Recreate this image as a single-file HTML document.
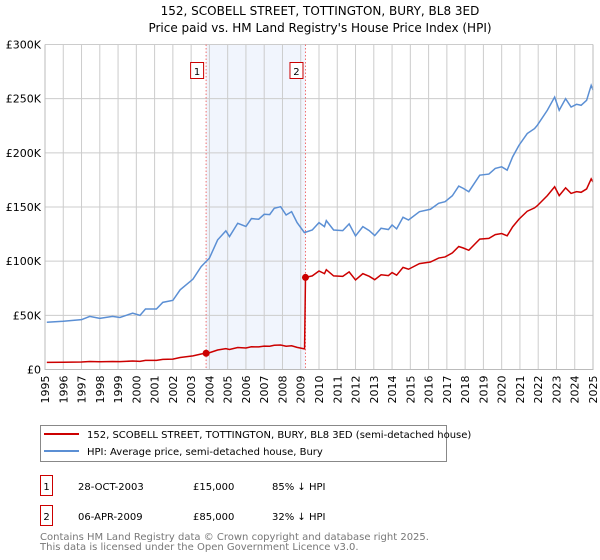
<!DOCTYPE html>
<html><head><meta charset="utf-8"><style>
body{margin:0;background:#fff;}
svg{display:block;font-family:"DejaVu Sans","Liberation Sans",sans-serif;}
</style></head><body>
<svg id="chart" width="600" height="560" viewBox="0 0 600 560">
<text x="320" y="15" text-anchor="middle" font-size="12">152, SCOBELL STREET, TOTTINGTON, BURY, BL8 3ED</text>
<text x="320" y="32" text-anchor="middle" font-size="12">Price paid vs. HM Land Registry's House Price Index (HPI)</text>
<g id="grid"></g><g id="marks"></g><g id="axes"></g>
<g>
<rect x="40.5" y="425.5" width="406" height="36" fill="#fff" stroke="#888"/>
<line x1="44" y1="434" x2="79" y2="434" stroke="#cc0000" stroke-width="2"/>
<text x="87" y="438" font-size="10">152, SCOBELL STREET, TOTTINGTON, BURY, BL8 3ED (semi-detached house)</text>
<line x1="44" y1="451" x2="79" y2="451" stroke="#5b8fd4" stroke-width="2"/>
<text x="87" y="455" font-size="10">HPI: Average price, semi-detached house, Bury</text>
</g>
<g font-size="10">
<rect x="40.5" y="475.5" width="12" height="20" fill="#fff" stroke="#cc0000"/>
<text x="46.5" y="490" text-anchor="middle">1</text>
<text x="78" y="490">28-OCT-2003</text><text x="193" y="490">£15,000</text><text x="272" y="490">85% ↓ HPI</text>
<rect x="40.5" y="505.5" width="12" height="20" fill="#fff" stroke="#cc0000"/>
<text x="46.5" y="520" text-anchor="middle">2</text>
<text x="78" y="520">06-APR-2009</text><text x="193" y="520">£85,000</text><text x="272" y="520">32% ↓ HPI</text>
</g>
<text x="40" y="540" font-size="10" fill="#777">Contains HM Land Registry data © Crown copyright and database right 2025.</text>
<text x="40" y="550" font-size="10" fill="#777">This data is licensed under the Open Government Licence v3.0.</text>
</svg>
<script>
const hpiYears=[1995.1,1996,1997,1997.45,1998,1998.7,1999.1,1999.8,2000.2,2000.5,2001.1,2001.45,2002,2002.4,2003.1,2003.55,2004,2004.45,2004.9,2005.1,2005.55,2006,2006.3,2006.7,2007,2007.3,2007.55,2007.9,2008.2,2008.5,2008.8,2009.2,2009.63,2010,2010.3,2010.4,2010.8,2011.3,2011.65,2012,2012.4,2012.75,2013.05,2013.4,2013.8,2014,2014.25,2014.6,2014.9,2015.5,2016.1,2016.55,2016.9,2017.3,2017.65,2017.9,2018.2,2018.8,2019.3,2019.65,2020,2020.3,2020.6,2020.95,2021.4,2021.8,2021.95,2022.5,2022.9,2023.15,2023.5,2023.8,2024.1,2024.35,2024.65,2024.9,2025];
const hpiValues=[43.6,44.5,46,49,47.2,49,48,52,50,55.8,55.8,62,63.8,73.6,83.4,95,102.8,119.6,128,122.7,135,132,139.3,138.7,143.3,143,148.8,150.3,142.6,145.7,135.6,126.4,128.8,135.6,131.9,137.4,128.8,128.2,134.4,123.3,131.9,128.2,123.6,130.4,129.2,133.4,129.8,140.5,138,145.7,147.9,153.4,154.9,160.4,169.3,167.2,164.1,179.4,180.4,185.6,187.1,184,196.3,207,217.8,222.4,225.4,239.3,251.5,239.3,250,242.3,244.8,243.9,248.5,262.3,258];
const saleYears=[2003.82,2009.26];
const salePrices=[15,85];
const saleLabels=["1","2"];
const yTicks=[0,50,100,150,200,250,300];
const yTickLabels=["£0","£50K","£100K","£150K","£200K","£250K","£300K"];
const xTicks=[];for(let y=1995;y<=2025;y++)xTicks.push(y);

const NS="http://www.w3.org/2000/svg";
const X0=45,X1=593,Y0=369.5,Y1=44.5;
const sx=y=>X0+(y-1995)/30*(X1-X0);
const sy=v=>Y0-v/300*(Y0-Y1);
function mk(tag,attrs,parent){const e=document.createElementNS(NS,tag);for(const k in attrs)e.setAttribute(k,attrs[k]);parent.appendChild(e);return e;}
const grid=document.getElementById('grid'),marks=document.getElementById('marks'),axes=document.getElementById('axes');
function hpiAt(t){for(let i=0;i<hpiYears.length-1;i++){if(t<=hpiYears[i+1]){const f=(t-hpiYears[i])/(hpiYears[i+1]-hpiYears[i]);return hpiValues[i]+f*(hpiValues[i+1]-hpiValues[i]);}}return hpiValues[hpiValues.length-1];}

const shade=mk('rect',{x:sx(saleYears[0]),y:Y1,width:sx(saleYears[1])-sx(saleYears[0]),height:Y0-Y1,fill:'#f1f5fd'},grid);


xTicks.forEach(y=>{const l=mk('line',{x1:sx(y),x2:sx(y),y1:Y1,y2:Y0,stroke:'#cccccc'},grid);


const t=mk('text',{x:0,y:0,'font-size':11,'text-anchor':'end',transform:`translate(${sx(y)+4},${Y0+6}) rotate(-90)`},axes);t.textContent=y;

});
yTicks.forEach((v,i)=>{const l=mk('line',{x1:X0,x2:X1,y1:sy(v),y2:sy(v),stroke:'#cccccc'},grid);


const t=mk('text',{x:X0-4,y:sy(v)+4,'font-size':11,'text-anchor':'end'},axes);t.textContent=yTickLabels[i];

});
const ax=mk('path',{d:`M${X0},${Y1}V${Y0}H${X1}V${Y1}`,fill:'none',stroke:'#bbb'},axes);



saleYears.forEach((s,i)=>{const l=mk('line',{x1:sx(s),x2:sx(s),y1:Y1,y2:Y0,stroke:'#f07070','stroke-dasharray':'1.5,2'},marks);


const r=mk('rect',{x:sx(s)-15.5,y:62.5,width:13,height:16,fill:'#fff',stroke:'#cc0000'},marks);


const t=mk('text',{x:sx(s)-9,y:75,'font-size':10,'text-anchor':'middle'},marks);t.textContent=saleLabels[i];

});

const hp=mk('polyline',{points:hpiYears.map((y,i)=>sx(y)+','+sy(hpiValues[i])).join(' '),fill:'none',stroke:'#5b8fd4','stroke-width':1.5},marks);


const r0=salePrices[0]/hpiAt(saleYears[0]),r1=salePrices[1]/hpiAt(saleYears[1]);
const pts=[];
hpiYears.forEach((y,i)=>{if(y<saleYears[1])pts.push([y,hpiValues[i]*r0]);});
pts.push([saleYears[1]-0.05,hpiAt(saleYears[1]-0.05)*r0]);
pts.push([saleYears[1],salePrices[1]]);
hpiYears.forEach((y,i)=>{if(y>saleYears[1])pts.push([y,hpiValues[i]*r1]);});
const pp=mk('polyline',{points:pts.map(p=>sx(p[0])+','+sy(p[1])).join(' '),fill:'none',stroke:'#cc0000','stroke-width':1.5},marks);


saleYears.forEach((s,i)=>{const c=mk('circle',{cx:sx(s),cy:sy(salePrices[i]),r:3.5,fill:'#cc0000'},marks);

});
</script>
</body></html>
